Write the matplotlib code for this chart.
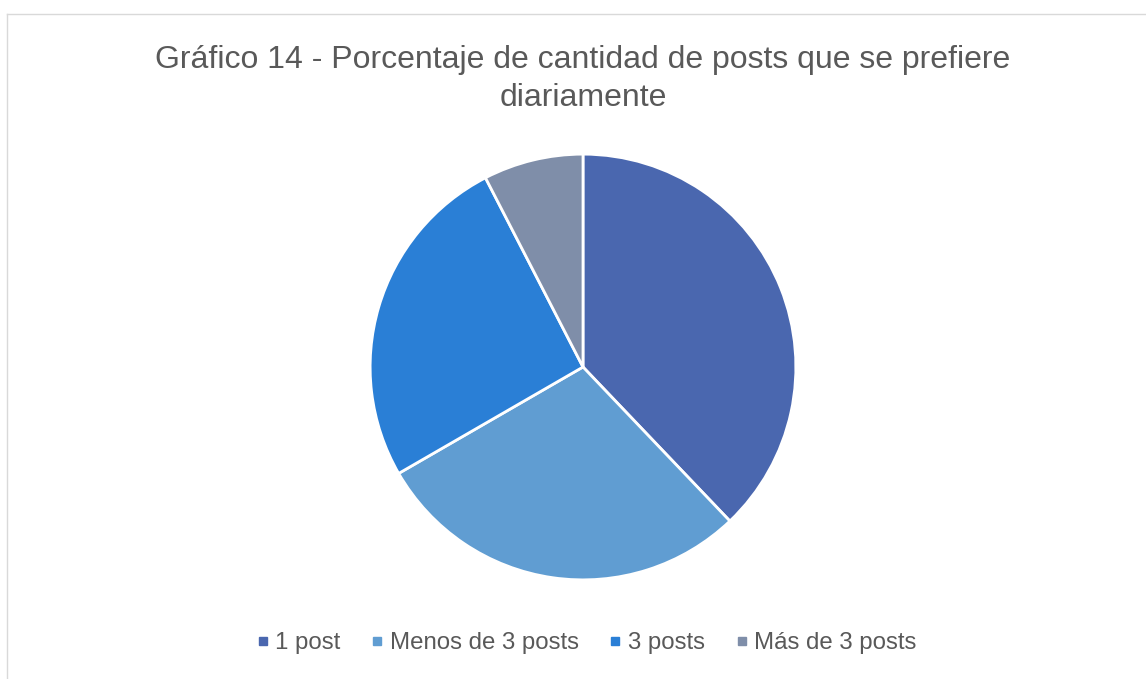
import matplotlib.pyplot as plt
from matplotlib.lines import Line2D

plt.rcParams['font.family'] = ['Liberation Sans', 'DejaVu Sans']

labels = ['1 post', 'Menos de 3 posts', '3 posts', 'Más de 3 posts']
counts = [25, 19, 17, 5]
colors = ['#4A67AF', '#609DD2', '#2A7FD6', '#7F8EA9']

W, H = 1146, 679
fig = plt.figure(figsize=(W / 100, H / 100), dpi=100)

# pie centre and radius in pixels
cx, cy, r = 583, 367, 215
ax = fig.add_axes([(cx - r) / W, 1 - (cy + r) / H, 2 * r / W, 2 * r / H])
ax.pie(counts, colors=colors, startangle=90, counterclock=False, radius=1,
       wedgeprops=dict(edgecolor='white', linewidth=2))
ax.set_xlim(-1.01, 1.01)
ax.set_ylim(-1.01, 1.01)
ax.set_aspect('equal')
ax.axis('off')

# chart border (top and left only visible)
fig.add_artist(Line2D([7 / W, 1], [1 - 14 / H, 1 - 14 / H], color='#d9d9d9', lw=1))
fig.add_artist(Line2D([7 / W, 7 / W], [0, 1 - 14 / H], color='#d9d9d9', lw=1))

fig.text(583 / W, 1 - 79 / H,
         'Gráfico 14 - Porcentaje de cantidad de posts que se prefiere\ndiariamente',
         ha='center', va='center', fontsize=23, color='#595959', linespacing=1.35)

handles = [Line2D([], [], marker='s', linestyle='none', markersize=5.5,
                  markerfacecolor=c, markeredgecolor=c) for c in colors]
fig.legend(handles, labels, loc='center', bbox_to_anchor=(587 / W, 1 - 643 / H),
           ncol=4, frameon=False, fontsize=17.3, handlelength=0.45, handletextpad=0.3,
           columnspacing=1.3, labelcolor='#595959')

fig.savefig('out.png', dpi=100)
